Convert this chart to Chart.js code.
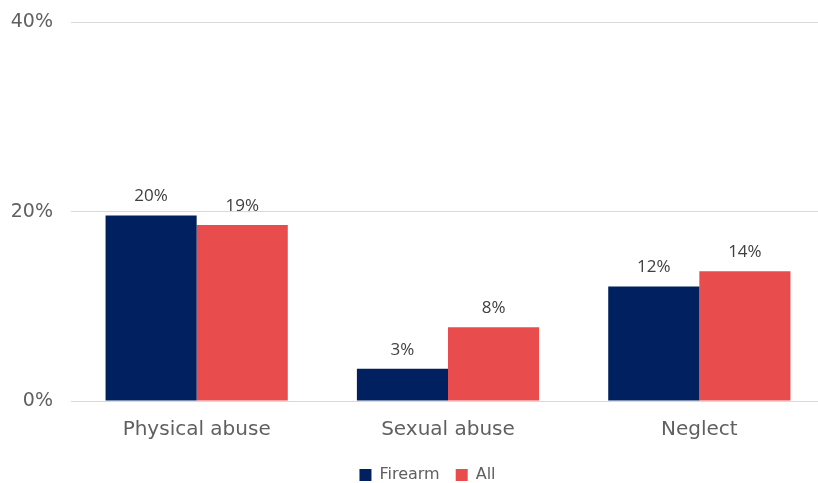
<!DOCTYPE html>
<html>
<head>
<meta charset="utf-8">
<script src="https://cdn.jsdelivr.net/npm/chart.js@4"></script>
<style>
  html, body { margin: 0; padding: 0; background: #fff; overflow: hidden; }
  #wrap { position: absolute; left: 0; top: -7px; width: 825px; height: 500px; }
</style>
</head>
<body>
<div id="wrap"><canvas id="abuseChart"></canvas></div>
<script>
const categories = ['Physical abuse', 'Sexual abuse', 'Neglect'];
const firearm = [19.6, 3.4, 12.1];
const allCases = [18.6, 7.8, 13.7];
const yTicks = [0, 20, 40];

// little plugin for the value labels above each bar
const barLabels = {
    id: 'barLabels',
    afterDatasetsDraw(chart) {
        const ctx = chart.ctx;
        ctx.save();
        ctx.font = '17px "Open Sans", sans-serif';
        ctx.fillStyle = '#404040';
        ctx.textAlign = 'center';
        ctx.textBaseline = 'alphabetic';
        chart.data.datasets.forEach((ds, i) => {
            chart.getDatasetMeta(i).data.forEach((bar, j) => {
                ctx.fillText(Math.round(ds.data[j]) + '%', bar.x, bar.y - 14);
            });
        });
        ctx.restore();
    }
};

// nudge the legend a bit to the right of centre
const legendShift = {
    id: 'legendShift',
    afterLayout(chart) {
        chart.legend.left += 15;
        chart.legend.right += 15;
    }
};

new Chart(document.getElementById('abuseChart'), {
    type: 'bar',
    data: {
        labels: categories,
        datasets: [
            { label: 'Firearm', data: firearm, backgroundColor: '#002060' },
            { label: 'All', data: allCases, backgroundColor: '#E84C4C' }
        ]
    },
    options: {
        responsive: true,
        maintainAspectRatio: false,
        animation: false,
        layout: { padding: { top: 5, right: 0, left: 0, bottom: 0 } },
        datasets: { bar: { categoryPercentage: 0.725, barPercentage: 1 } },
        scales: {
            x: {
                grid: { display: false },
                border: { color: '#d9d9d9', width: 1 },
                ticks: { color: '#606060', font: { family: '"DejaVu Sans"', size: 20 }, padding: 9 }
            },
            y: {
                min: 0,
                max: 40,
                afterBuildTicks: axis => { axis.ticks = yTicks.map(v => ({ value: v })); },
                afterFit: axis => { axis.width = 71; },
                grid: { color: '#d9d9d9', drawTicks: false },
                border: { display: false },
                ticks: {
                    color: '#606060',
                    font: { family: '"DejaVu Sans"', size: 19 },
                    padding: 18,
                    callback: v => v + '%'
                }
            }
        },
        plugins: {
            legend: {
                position: 'bottom',
                labels: {
                    color: '#606060',
                    font: { family: '"DejaVu Sans"', size: 16 },
                    boxWidth: 12,
                    boxHeight: 12,
                    padding: 16
                }
            },
            tooltip: { enabled: false }
        }
    },
    plugins: [barLabels, legendShift]
});
</script>
</body>
</html>
